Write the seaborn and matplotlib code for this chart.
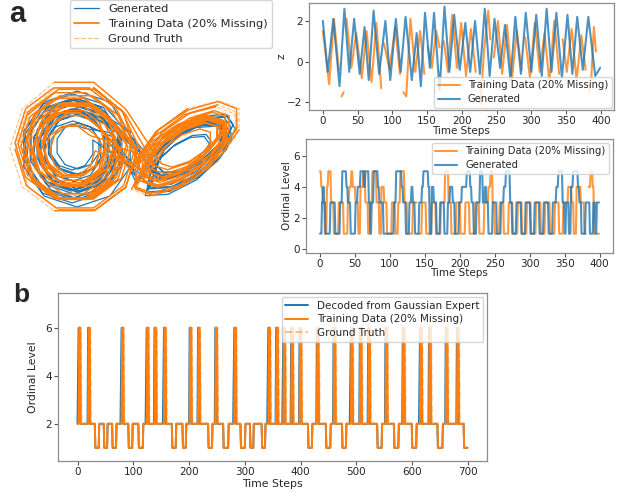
import numpy as np
import matplotlib
matplotlib.use('Agg')
import matplotlib.pyplot as plt
import seaborn as sns
from matplotlib.lines import Line2D

BLUE = '#1f77b4'
ORANGE = '#ff7f0e'
nan = np.nan

# ── panel a: attractor loops, projected coordinates (arbitrary units) ─────────

truth_loops = {
    'L25': [(-27, 3), (-31.7, -12.3), (-44.2, -21.7), (-59.8, -21.7), (-72.3, -12.3), (-77, 3), (-72.3, 18.3), (-59.8, 27.7), (-44.2, 27.7), (-31.7, 18.3)],
    'L32': [(-20, 3), (-26.1, -17.1), (-42.1, -29.3), (-61.9, -29.3), (-77.9, -17.1), (-84, 3), (-77.9, 23.1), (-61.9, 35.3), (-42.1, 35.3), (-26.1, 23.1)],
    'L36': [(-16, 3), (-22.8, -19.4), (-40.8, -33.1), (-63.2, -33.1), (-81.2, -19.4), (-88, 3), (-81.2, 25.4), (-63.2, 39.1), (-40.8, 39.1), (-22.8, 25.4)],
    'L40': [(-12, 3), (-19.6, -21.8), (-39.6, -36.9), (-64.4, -36.9), (-84.4, -21.8), (-92, 3), (-84.4, 27.8), (-64.4, 42.9), (-39.6, 42.9), (-19.6, 27.8)],
    'L44': [(-8, 3), (-16.4, -24.1), (-38.4, -40.7), (-65.6, -40.7), (-87.6, -24.1), (-96, 3), (-87.6, 30.1), (-65.6, 46.7), (-38.4, 46.7), (-16.4, 30.1)],
    'L48': [(-4, 3), (-13.1, -26.5), (-37.1, -44.5), (-66.9, -44.5), (-90.9, -26.5), (-100, 3), (-90.9, 32.5), (-66.9, 50.5), (-37.1, 50.5), (-13.1, 32.5)],
    'L52': [(0, 3), (-9.9, -28.9), (-35.9, -48.3), (-68.1, -48.3), (-94.1, -28.9), (-104, 3), (-94.1, 34.9), (-68.1, 54.3), (-35.9, 54.3), (-9.9, 34.9)],
    'L56': [(4, 3), (-6.6, -31.2), (-34.6, -52.1), (-69.4, -52.1), (-97.4, -31.2), (-108, 3), (-97.4, 37.2), (-69.4, 58.1), (-34.6, 58.1), (-6.6, 37.2)],
    'L60': [(8, 3), (-3.4, -33.6), (-33.4, -55.9), (-70.6, -55.9), (-100.6, -33.6), (-112, 3), (-100.6, 39.6), (-70.6, 64.6), (-33.4, 64.6), (-3.4, 39.6)],
    'L64': [(12, 3), (-0.2, -35.9), (-32.2, -59.7), (-71.8, -59.7), (-103.8, -35.9), (-116, 3), (-103.8, 41.9), (-71.8, 68.7), (-32.2, 68.7), (-0.2, 41.9)],
    'R36': [(30.5, -18.7), (41.2, -22.1), (59.1, -16.1), (77.3, -3.3), (89.0, 11.5), (89.5, 22.7), (78.8, 26.1), (60.9, 20.1), (42.7, 7.3), (31.0, -7.5)],
    'R43': [(24.8, -21.7), (37.6, -25.7), (58.9, -18.7), (80.7, -3.3), (94.6, 14.3), (95.2, 27.7), (82.4, 31.7), (61.1, 24.7), (39.3, 9.3), (25.4, -8.3)],
    'R46': [(22.3, -23.4), (36.3, -28.1), (59.2, -20.8), (82.6, -4.4), (97.3, 14.7), (97.7, 29.4), (83.7, 34.1), (60.8, 26.8), (37.4, 10.4), (22.7, -8.7)],
    'R49': [(19.9, -25.1), (34.9, -30.4), (59.6, -22.8), (84.4, -5.4), (99.9, 15.2), (100.1, 31.1), (85.1, 36.4), (60.4, 28.8), (35.6, 11.4), (20.1, -9.2)],
    'R55': [(15.0, -28.6), (32.3, -35.2), (60.2, -27.0), (88.2, -7.4), (105.3, 16.0), (105.0, 34.6), (87.7, 41.2), (59.8, 33.0), (31.8, 13.4), (14.7, -10.0)],
    'R58': [(12.5, -30.3), (31.0, -37.5), (60.6, -29.1), (90.0, -8.5), (108.0, 16.5), (107.5, 36.3), (89.0, 43.5), (59.4, 35.1), (30.0, 15.6), (12.0, -10.5)],
    'R62': [(9.2, -33.6), (29.0, -41.3), (60.6, -32.4), (92.0, -10.4), (111.2, 16.3), (110.8, 37.6), (91.0, 45.3), (59.4, 37.4), (28.0, 14.4), (8.8, -12.3)],
}
truth_order = ['L25', 'L32', 'L40', 'L48', 'L56', 'R36', 'R43', 'R49', 'R55',
               'L32', 'L36', 'L44', 'L52', 'L60', 'R46', 'R58', 'R62',
               'L25', 'L40', 'L48', 'L64', 'R36', 'R43', 'R55', 'L36', 'L44', 'L52',
               'R46', 'R49', 'R58', 'L32', 'L40', 'L48', 'L56', 'L60', 'R43', 'R55', 'R62']
# drift of each loop of the ground-truth trajectory
truth_shift = [(2, -3), (-3, 2), (4, 1), (-2, -4), (3, 3), (-4, -5), (3, 2), (-2, -6), (5, 4),
               (1, 4), (-4, -2), (3, -3), (-3, 3), (2, -2), (-5, -3), (4, 5), (0, -2),
               (-3, -4), (2, 4), (-4, 1), (1, -1), (6, 5), (-3, -4), (-6, -8), (4, -3), (-2, 5), (3, 0),
               (-3, -7), (4, 3), (-6, -9), (2, -1), (-3, 2), (1, -5), (-2, 4), (4, -4), (5, 6), (-5, -10), (3, 4)]
# (loop position in truth_order, first vertex, last vertex) not seen in training
train_missing = [(2, 2, 2), (4, 5, 7), (8, 5, 5), (12, 3, 3), (13, 6, 7),
                 (15, 2, 2), (16, 1, 2), (16, 4, 5), (20, 4, 6), (24, 8, 8),
                 (29, 1, 1), (31, 6, 6), (34, 4, 5), (37, 5, 6)]

gen_loops = {
    'B22': [(-29.1, 9.1), (-29.1, -5.1), (-37.0, -16.6), (-50, -21), (-63.0, -16.6), (-70.9, -5.1), (-70.9, 9.1), (-63.0, 20.6), (-50, 25), (-37.0, 20.6)],
    'B29': [(-22.4, 11.3), (-22.4, -7.3), (-32.9, -22.3), (-50, -28), (-67.1, -22.3), (-77.6, -7.3), (-77.6, 11.3), (-67.1, 26.3), (-50, 32), (-32.9, 26.3)],
    'B36': [(-15.8, 13.8), (-15.8, -9.8), (-28.8, -28.8), (-50, -36), (-71.2, -28.8), (-84.2, -9.8), (-84.2, 13.8), (-71.2, 32.8), (-50, 40), (-28.8, 32.8)],
    'B39': [(-12.9, 14.7), (-12.9, -10.7), (-27.0, -31.2), (-50, -39), (-73.0, -31.2), (-87.1, -10.7), (-87.1, 14.7), (-73.0, 35.2), (-50, 43), (-27.0, 35.2)],
    'B43': [(-9.1, 16.0), (-9.1, -12.0), (-24.6, -34.5), (-50, -43), (-75.4, -34.5), (-90.9, -12.0), (-90.9, 16.0), (-75.4, 38.5), (-50, 47), (-24.6, 38.5)],
    'B46': [(-6.3, 16.9), (-6.3, -12.9), (-22.9, -36.9), (-50, -46), (-77.1, -36.9), (-93.7, -12.9), (-93.7, 16.9), (-77.1, 40.9), (-50, 50), (-22.9, 40.9)],
    'B50': [(-2.5, 18.1), (-2.5, -14.1), (-20.5, -40.1), (-50, -50), (-79.5, -40.1), (-97.5, -14.1), (-97.5, 18.1), (-79.5, 44.1), (-50, 54), (-20.5, 44.1)],
    'B56': [(3.2, 20.0), (3.2, -16.0), (-17.0, -45.0), (-50, -56), (-83.0, -45.0), (-103.2, -16.0), (-103.2, 20.0), (-83.0, 49.0), (-50, 60), (-17.0, 49.0)],
    'C33': [(38.8, -21.6), (52.6, -20.5), (70.0, -11.5), (84.4, 1.9), (90.2, 14.4), (85.2, 21.6), (71.4, 20.5), (54.0, 11.5), (39.6, -1.9), (33.8, -14.4)],
    'C40': [(33.8, -26.2), (50.5, -24.9), (71.8, -13.9), (89.3, 2.3), (96.2, 17.6), (90.2, 26.2), (73.5, 24.9), (52.2, 13.9), (34.7, -2.3), (27.8, -17.6)],
    'C47': [(29.0, -30.7), (48.6, -29.2), (73.5, -16.4), (94.0, 2.6), (102.2, 20.5), (95.0, 30.7), (75.4, 29.2), (50.5, 16.4), (30.0, -2.6), (21.8, -20.5)],
    'C50': [(26.9, -32.9), (48.0, -31.5), (74.6, -18.0), (96.4, 2.3), (104.9, 21.7), (97.1, 32.9), (76.0, 31.5), (49.4, 18.0), (27.6, -2.3), (19.1, -21.7)],
    'C54': [(24.3, -35.6), (47.1, -34.3), (75.8, -19.7), (99.3, 2.3), (108.3, 23.4), (99.7, 35.6), (76.9, 34.3), (48.2, 19.7), (24.7, -2.3), (15.7, -23.4)],
}
gen_order = ['B22', 'B29', 'B36', 'B43', 'C33', 'C40', 'C47', 'B29', 'B39', 'B46', 'B50',
             'C40', 'C50', 'C54', 'B22', 'B36', 'B46', 'B56', 'C33', 'C47', 'C54', 'B39',
             'C40', 'C50', 'B29', 'B36', 'B43', 'B50', 'C47', 'C54', 'B39', 'B46']
gen_shift = [(3, 2), (-2, -3), (4, -1), (-3, 3), (-4, -6), (3, 1), (-2, -5), (2, 4), (-4, -2), (3, -3), (-2, 2),
             (5, 3), (-3, -6), (2, -2), (-3, 1), (4, 3), (-4, -3), (2, -1), (-6, -8), (4, 2), (-2, -7), (3, -2),
             (5, 4), (-5, -9), (1, 3), (-2, -1), (3, 4), (-3, -3), (6, 5), (-4, -10), (2, -3), (-1, 2)]

# ── panel a: z coordinate over time ───────────────────────────────────────────

gen_z_t = [0, 7, 15, 24, 31, 38, 45, 53, 60, 66, 73, 81, 90, 97, 105, 112, 119, 128, 135, 141,
           147, 154, 160, 168, 175, 182, 189, 197, 205, 212, 219, 226, 233, 240, 247, 255, 262, 270, 277, 285,
           292, 300, 307, 315, 322, 329, 336, 344, 352, 359, 366, 374, 382, 392, 399]
gen_z = [2.0, -0.5, 2.1, -1.2, 2.6, -0.5, 2.1, -0.6, 1.7, -0.9, 2.5, -0.6, 2.0, -0.9, 2.1, -0.5, 2.2, -0.9, 1.4, -1.2,
         2.4, -0.3, 2.4, -1.4, 2.7, -0.5, 2.3, -0.4, 1.9, -0.5, 2.0, -0.6, 2.6, -0.7, 2.1, -0.3, 1.8, -0.9, 2.2, -0.6,
         2.4, -0.5, 2.3, -0.7, 2.6, -0.5, 2.4, -0.8, 2.3, -0.6, 2.2, -0.4, 2.2, -0.7, -0.3]

train_z_t = [0, 9, 16, 23, 24, 27, 30, 31, 34, 41, 48, 56, 63, 70, 77, 84, 85, 88, 96, 104,
             111, 113, 116, 120, 126, 133, 140, 146, 147, 151, 157, 163, 168, 169, 174, 180, 186, 193, 199, 206,
             213, 220, 221, 224, 227, 232, 238, 241, 242, 246, 252, 258, 265, 272, 279, 286, 287, 291, 298, 305,
             312, 319, 326, 333, 340, 341, 345, 351, 358, 365, 372, 378, 379, 383, 386, 390, 393]
train_z = [1.5, -1.1, 2.1, -0.4, nan, -1.7, -1.5, nan, 2.1, -0.3, 1.4, -0.8, 1.5, -1.0, 1.9, -1.3, nan, 0.9, -0.4, 1.7,
           -0.6, nan, -1.5, -1.7, 2.1, -0.5, 1.5, -0.6, nan, 0.7, -0.3, 1.5, 0.7, nan, 1.0, -0.5, 2.3, -0.3, 1.9, -0.7,
           1.6, -0.5, nan, -1.8, -2.1, 0.6, 2.5, 1.1, nan, 0.2, 2.0, -0.6, 1.8, -0.9, 1.5, -0.4, nan, 1.2, -0.8, 1.9,
           -0.5, 1.4, -1.0, 2.0, -0.6, nan, 1.1, -0.5, 1.6, -0.9, 1.3, -0.4, nan, -1.5, -1.0, 1.7, 0.5]

# ── panel a: ordinal levels, given as change points ───────────────────────────

ord_steps = 400
gen_ord_start = [0, 3, 5, 6, 8, 15, 22, 29, 32, 38, 40, 44, 51, 54, 58, 63, 65, 70, 72, 74,
                 77, 83, 85, 91, 106, 109, 117, 119, 123, 128, 131, 133, 136, 142, 146, 148, 155, 157, 160, 163,
                 167, 172, 178, 183, 186, 190, 193, 199, 203, 210, 215, 217, 220, 224, 229, 233, 236, 238, 241, 247,
                 253, 259, 263, 266, 272, 275, 281, 288, 294, 301, 307, 314, 320, 327, 333, 338, 341, 347, 350, 352,
                 356, 359, 362, 369, 371, 374, 380, 386, 391, 394, 396]
gen_ord_level = [1, 3, 4, 3, 1, 3, 1, 3, 5, 4, 3, 1, 3, 4, 5, 4, 5, 3, 1, 3,
                 5, 4, 3, 1, 3, 5, 4, 3, 1, 3, 4, 3, 1, 3, 4, 5, 4, 1, 4, 3,
                 1, 3, 1, 3, 4, 3, 1, 3, 4, 5, 4, 3, 1, 3, 5, 3, 4, 3, 1, 3,
                 1, 3, 4, 5, 3, 1, 3, 1, 3, 1, 3, 1, 3, 1, 3, 4, 5, 3, 1, 3,
                 1, 4, 5, 4, 3, 1, 3, 1, 3, 1, 3]

train_ord_start = [0, 2, 4, 7, 10, 12, 16, 20, 27, 34, 40, 42, 45, 47, 51, 55, 58, 62, 65, 69,
                   72, 75, 81, 85, 88, 92, 96, 103, 108, 112, 115, 121, 125, 133, 139, 141, 146, 152, 160, 166,
                   173, 179, 184, 188, 195, 201, 208, 214, 222, 228, 235, 241, 244, 247, 250, 257, 263, 270, 276, 283,
                   289, 296, 302, 309, 316, 322, 329, 336, 342, 348, 355, 360, 363, 367, 373, 378, 381, 384, 387, 390,
                   392]
train_ord_level = [5, 4, 3, 1, 4, 5, 3, 1, 3, 1, 3, 4, 5, 4, 3, 1, 4, 5, 3, 1,
                   3, 5, 3, 1, 4, 3, 1, 3, 1, 3, 5, 3, 1, 3, nan, 1, 3, 1, 3, 1,
                   3, 5, 3, 1, 3, 1, 3, 1, 3, 1, 3, 4, 5, 3, 1, 3, 1, 3, 1, 3,
                   1, 3, 1, 3, 1, 3, 1, 3, 1, 3, 4, 3, 1, 4, 3, 1, nan, 4, 5, 4,
                   1]

# ── panel b: decoded ordinal series (700 steps, base level 2) ─────────────────

b_steps = 700
dip_start = [32, 48, 63, 92, 110, 170, 189, 235, 262, 293, 310, 331, 414, 446, 475, 538, 568, 600, 646, 693]
dip_end = [39, 54, 70, 99, 118, 177, 195, 242, 271, 301, 316, 337, 421, 454, 482, 546, 576, 608, 655, 700]
train_spike_start = [3, 20, 80, 125, 139, 156, 202, 217, 248, 282, 343, 357, 370,
                     384, 399, 430, 460, 491, 507, 522, 553, 584, 615, 631, 661, 681]
train_spike_end = [6, 23, 83, 128, 142, 159, 205, 220, 251, 285, 346, 360, 373,
                   387, 402, 433, 463, 494, 510, 525, 556, 587, 618, 634, 664, 684]
truth_spike_end = [7, 24, 84, 129, 143, 160, 206, 221, 252, 286, 347, 361, 374,
                   388, 403, 434, 464, 495, 511, 526, 557, 588, 619, 635, 665, 685]
dec_spike_start = [2, 19, 79, 124, 138, 155, 201, 216, 247, 281, 342, 356, 369,
                   383, 398, 429, 459, 490, 506, 521, 552, 583, 614, 630, 660, 680]
dec_spike_end = [5, 22, 82, 127, 141, 158, 204, 219, 250, 284, 345, 359, 372,
                 386, 401, 432, 462, 493, 509, 524, 555, 586, 617, 633, 663, 683]
dec_mid_steps = [1, 78, 123, 154, 280, 341, 368, 489, 613]


def chain(loops, order, shift):
    pts = np.array([(x + dx, y + dy) for name, (dx, dy) in zip(order, shift)
                     for x, y in loops[name]], dtype=float)
    return pts[:, 0], pts[:, 1]


def from_changes(starts, levels, n):
    out = np.empty(n)
    bounds = list(starts) + [n]
    for s, e, lev in zip(bounds[:-1], bounds[1:], levels):
        out[s:e] = lev
    return out


def spiky(starts, ends, mids=()):
    out = np.full(b_steps, 2.0)
    for s, e in zip(dip_start, dip_end):
        out[s:e] = 1
    for s, e in zip(starts, ends):
        out[s:e] = 6
    for i in mids:
        out[i] = 4
    return out


truth_x, truth_y = chain(truth_loops, truth_order, truth_shift)
gen_x, gen_y = chain(gen_loops, gen_order, gen_shift)
offsets = np.cumsum([0] + [len(truth_loops[n]) for n in truth_order])
train_x, train_y = truth_x.copy(), truth_y.copy()
for pos, a, b in train_missing:
    train_x[offsets[pos] + a: offsets[pos] + b + 1] = nan
    train_y[offsets[pos] + a: offsets[pos] + b + 1] = nan

gen_ord = from_changes(gen_ord_start, gen_ord_level, ord_steps)
train_ord = from_changes(train_ord_start, train_ord_level, ord_steps)

b_t = np.arange(b_steps)
b_truth = spiky(train_spike_start, truth_spike_end)
b_train = spiky(train_spike_start, train_spike_end)
b_dec = spiky(dec_spike_start, dec_spike_end, dec_mid_steps)


# ── figure ────────────────────────────────────────────────────────────────────

sns.set_style('ticks')
plt.rcParams['font.family'] = ['DejaVu Sans']
W, H = 619, 492
fig = plt.figure(figsize=(W / 100, H / 100), dpi=100)


def box(left, top, right, bottom):
    return [left / W, 1 - bottom / H, (right - left) / W, (bottom - top) / H]


def style(ax):
    for sp in ax.spines.values():
        sp.set_color('#8c8c8c')
        sp.set_linewidth(0.9)
    ax.tick_params(labelsize=7.5, length=3, width=0.8, color='#555555', pad=1.5)


# attractor
ax_att = fig.add_axes(box(0, 55, 255, 235))
sns.lineplot(x=gen_x, y=gen_y, sort=False, estimator=None, color=BLUE, lw=0.9, ax=ax_att)
ax_att.plot(train_x, train_y, color=ORANGE, lw=1.0)
ax_att.plot(truth_x, truth_y, color=ORANGE, lw=0.8, ls='--', alpha=0.5)
ax_att.set_xlim(-125, 130)
ax_att.set_ylim(-85, 95)
ax_att.axis('off')

att_handles = [Line2D([], [], color=BLUE, lw=0.9),
               Line2D([], [], color=ORANGE, lw=1.3),
               Line2D([], [], color=ORANGE, lw=0.9, ls='--', alpha=0.55)]
fig.legend(att_handles, ['Generated', 'Training Data (20% Missing)', 'Ground Truth'],
           loc='upper left', bbox_to_anchor=(70 / W, 1.0), fontsize=8.2,
           borderaxespad=0, handlelength=2.2, labelspacing=0.45, borderpad=0.35)

# z over time
ax_z = fig.add_axes(box(309, 3, 614, 110))
ax_z.plot(train_z_t, train_z, color=ORANGE, lw=1.5, alpha=0.8, label='Training Data (20% Missing)')
sns.lineplot(x=gen_z_t, y=gen_z, color=BLUE, lw=1.5, alpha=0.8, label='Generated', ax=ax_z)
ax_z.set_ylim(-2.37, 2.88)
ax_z.set_xlim(-19.95, 418.95)
ax_z.set_xticks(range(0, 401, 50))
ax_z.set_yticks([-2, 0, 2])
ax_z.set_xlabel('Time Steps', fontsize=7.5, labelpad=-0.5)
ax_z.set_ylabel('z', fontsize=7.5, labelpad=0.5)
ax_z.legend(loc='lower right', fontsize=7.2, borderaxespad=0.25, handlelength=2.2,
            labelspacing=0.35, borderpad=0.35)
style(ax_z)

# ordinal levels over time
ord_t = np.arange(ord_steps)
ax_o = fig.add_axes(box(306, 139, 613, 252.7))
ax_o.plot(ord_t, train_ord, color=ORANGE, lw=1.5, alpha=0.8, label='Training Data (20% Missing)')
sns.lineplot(x=ord_t, y=gen_ord, color=BLUE, lw=1.5, alpha=0.8, label='Generated', ax=ax_o)
ax_o.set_ylim(-0.22, 7.07)
ax_o.set_xlim(-19.95, 418.95)
ax_o.set_xticks(range(0, 401, 50))
ax_o.set_yticks([0, 2, 4, 6])
ax_o.set_xlabel('Time Steps', fontsize=7.5, labelpad=-0.5)
ax_o.set_ylabel('Ordinal Level', fontsize=7.5, labelpad=0.5)
ax_o.legend(loc='upper right', fontsize=7.2, borderaxespad=0.4, handlelength=2.2,
            labelspacing=0.35, borderpad=0.35)
style(ax_o)

# panel b
ax_b = fig.add_axes(box(58, 293, 487, 461))
sns.lineplot(x=b_t, y=b_dec, color=BLUE, lw=1.4, label='Decoded from Gaussian Expert', ax=ax_b)
sns.lineplot(x=b_t, y=b_train, color=ORANGE, lw=1.4, label='Training Data (20% Missing)', ax=ax_b)
ax_b.plot(b_t, b_truth, color=ORANGE, lw=1.4, ls='--', alpha=0.5, label='Ground Truth')
ax_b.set_xlim(-34.95, 733.95)
ax_b.set_ylim(0.45, 7.45)
ax_b.set_xticks(range(0, 701, 100))
ax_b.set_yticks([2, 4, 6])
ax_b.set_xlabel('Time Steps', fontsize=7.8, labelpad=1)
ax_b.set_ylabel('Ordinal Level', fontsize=7.8, labelpad=5)
ax_b.legend(loc='upper right', fontsize=7.5, borderaxespad=0.4, handlelength=2.2,
            labelspacing=0.35, borderpad=0.35)
style(ax_b)

# panel letters
fig.text(9 / W, 1 - 22 / H, 'a', fontsize=21, fontweight='bold', family='Liberation Sans', va='baseline')
fig.text(13 / W, 1 - 302 / H, 'b', fontsize=19, fontweight='bold', family='Liberation Sans', va='baseline')

fig.savefig('out.png', dpi=100)
